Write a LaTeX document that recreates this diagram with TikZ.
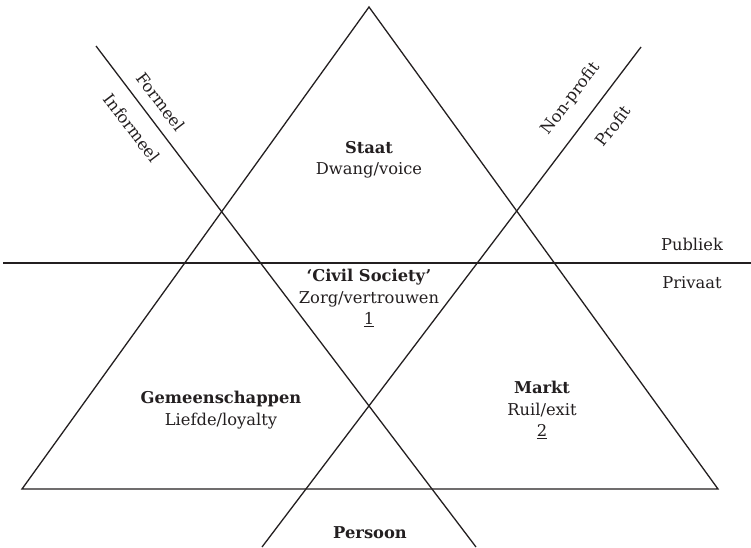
\documentclass[tikz,border=0pt]{standalone}
\usepackage{fontspec}
\setmainfont{DejaVu Serif}
\usetikzlibrary{positioning}
\definecolor{inkgray}{RGB}{35,31,32}

\begin{document}
\begin{tikzpicture}[x=1pt, y=-1pt,
    line/.style={line width=1.3pt, inkgray},
    sector/.style={font=\fontsize{16.3}{21.5}\selectfont, text=inkgray, align=center},
    sidelabel/.style={font=\fontsize{16.3}{19}\selectfont, text=inkgray}]
        \useasboundingbox (0,0) rectangle (751,547);

        % Corners and line ends
        \coordinate (apex) at (369,7);
        \coordinate (baseL) at (22,489);
        \coordinate (baseR) at (718,489);
        \coordinate (pubL) at (3,263);
        \coordinate (pubR) at (751,263);
        \coordinate (formA) at (96,46);
        \coordinate (formB) at (476,547);
        \coordinate (profA) at (641,47);
        \coordinate (profB) at (262,547);

        % Triangle and dividing lines
        \draw[line] (apex) -- (baseR) -- (baseL) -- cycle;
        \draw[line] (pubL) -- (pubR);
        \draw[line] (formA) -- (formB);
        \draw[line] (profA) -- (profB);

        % Sectors
        \node[sector] (staat) at (369,160) {\textbf{Staat}\\Dwang/voice};
        \node[sector] (civil) at (369,298) {\textbf{‘Civil Society’}\\Zorg/vertrouwen\\\underline{1}};
        \node[sector] (gemeen) at (221,410) {\textbf{Gemeenschappen}\\Liefde/loyalty};
        \node[sector] (markt) at (542,410) {\textbf{Markt}\\Ruil/exit\\\underline{2}};
        \node[sector] (persoon) at (370,533) {\textbf{Persoon}};

        % Labels of the lines
        \node[sidelabel] (publiek) at (692,244) {Publiek};
        \node[sidelabel] (privaat) at (692,283) {Privaat};
        \node[sidelabel, rotate=-52.8] (formeel) at (161,102) {Formeel};
        \node[sidelabel, rotate=-52.8] (informeel) at (132,128) {Informeel};
        \node[sidelabel, rotate=52.8] (nonprofit) at (571,99) {Non-profit};
        \node[sidelabel, rotate=52.8] (profit) at (613,126) {Profit};
\end{tikzpicture}
\end{document}
